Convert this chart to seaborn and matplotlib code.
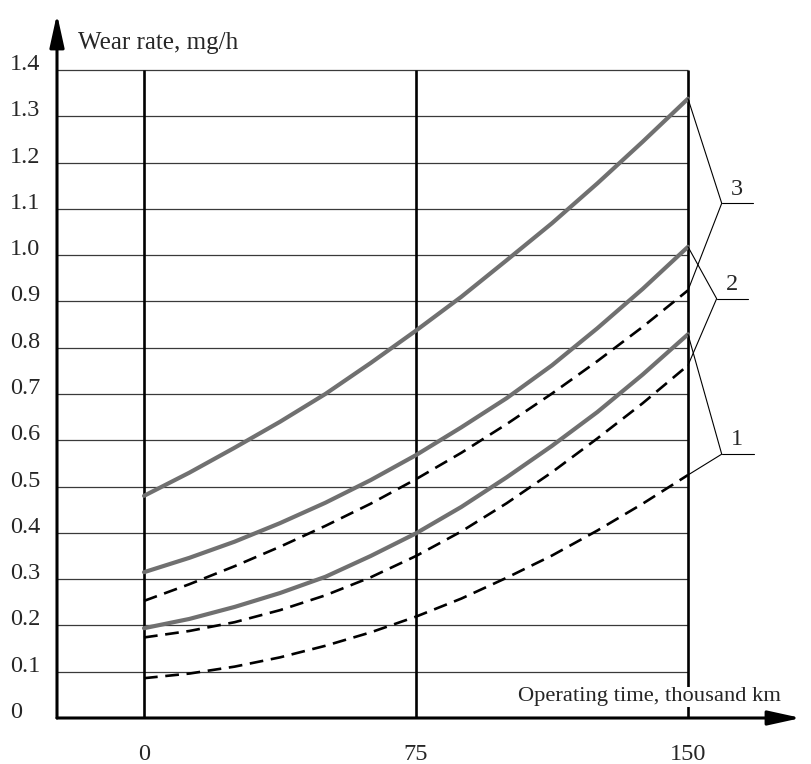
import matplotlib
matplotlib.use("Agg")
import matplotlib.pyplot as plt
import numpy as np
import pandas as pd
import seaborn as sns

# operating time, thousand km
km = [0, 12.5, 25, 37.5, 50, 62.5, 75, 87.5, 100, 112.5, 125, 137.5, 150]

# wear rate, mg/h  (solid = grey curves, dashed = black curves), groups 1..3
solid_1 = [0.194, 0.214, 0.240, 0.270, 0.305, 0.350, 0.399, 0.456, 0.520, 0.588, 0.661, 0.742, 0.829]
solid_2 = [0.315, 0.346, 0.381, 0.421, 0.465, 0.514, 0.568, 0.628, 0.691, 0.762, 0.842, 0.927, 1.018]
solid_3 = [0.480, 0.530, 0.584, 0.640, 0.700, 0.767, 0.837, 0.910, 0.989, 1.069, 1.155, 1.245, 1.338]
dashed_1 = [0.086, 0.096, 0.111, 0.131, 0.156, 0.185, 0.219, 0.258, 0.303, 0.351, 0.405, 0.463, 0.525]
dashed_2 = [0.174, 0.188, 0.207, 0.233, 0.265, 0.304, 0.350, 0.403, 0.464, 0.531, 0.604, 0.680, 0.762]
dashed_3 = [0.253, 0.289, 0.328, 0.370, 0.415, 0.463, 0.516, 0.573, 0.635, 0.701, 0.771, 0.845, 0.924]

group_names = ["1", "2", "3"]
y_ticks = [0.0, 0.1, 0.2, 0.3, 0.4, 0.5, 0.6, 0.7, 0.8, 0.9, 1.0, 1.1, 1.2, 1.3, 1.4]
y_tick_labels = ["0", "0.1", "0.2", "0.3", "0.4", "0.5", "0.6", "0.7",
                 "0.8", "0.9", "1.0", "1.1", "1.2", "1.3", "1.4"]
x_ticks = [0, 75, 150]
x_tick_labels = ["0", "75", "150"]

# long-form tables for seaborn
solid_df = pd.DataFrame({
    "km": km * 3,
    "wear": solid_1 + solid_2 + solid_3,
    "group": np.repeat(group_names, len(km)),
})
dashed_df = pd.DataFrame({
    "km": km * 3,
    "wear": dashed_1 + dashed_2 + dashed_3,
    "group": np.repeat(group_names, len(km)),
})

sns.set_style("white")
plt.rcParams["font.family"] = ["Liberation Serif", "DejaVu Serif"]

fig = plt.figure(figsize=(8.11, 7.64), dpi=100)
# left spine at px 57, bottom at px 718
ax = fig.add_axes([57 / 811, 46 / 764, (811 - 57) / 811, 718 / 764])
px_x = (688 - 144) / 150.0
px_y = (718 - 70) / 1.4
x_left = (57 - 144) / px_x
ax.set_xlim(x_left, (811 - 144) / px_x)
ax.set_ylim(0, 718 / px_y)
for s in ax.spines.values():
    s.set_visible(False)

# grid
ax.hlines(y_ticks[1:], x_left, 150, color="#3a3a3a", lw=0.9, zorder=1)
ax.vlines(x_ticks, 0, 1.4, color="black", lw=1.9, zorder=2)

# curves
sns.lineplot(data=solid_df, x="km", y="wear", units="group", estimator=None,
             color="#707070", linewidth=3.0, legend=False, ax=ax, zorder=3)
sns.lineplot(data=dashed_df, x="km", y="wear", units="group", estimator=None,
             color="black", linewidth=1.9, linestyle=(0, (5.2, 2.9)),
             legend=False, ax=ax, zorder=3)

# axes arrows
arrow = dict(arrowstyle="-|>,head_length=1.0,head_width=0.22", lw=2.2,
             color="black", mutation_scale=20, shrinkA=0, shrinkB=0)
ax.annotate("", xy=((801 - 144) / px_x, 0), xytext=(x_left, 0),
            arrowprops=arrow, annotation_clip=False, zorder=4)
ax.annotate("", xy=(x_left, (718 - 14) / px_y), xytext=(x_left, 0),
            arrowprops=arrow, annotation_clip=False, zorder=4)

# ticks
ax.set_yticks(y_ticks, y_tick_labels)
ax.set_xticks(x_ticks, x_tick_labels)
ax.tick_params(axis="y", length=0, pad=47 * 0.72, labelsize=17.5)
ax.tick_params(axis="x", length=0, pad=18.5, labelsize=17.5)
for lab in ax.get_yticklabels():
    lab.set_ha("left")
    lab.set_va("baseline")
ax.set_xlabel("")
ax.set_ylabel("")

# axis titles
ax.text((78 - 144) / px_x, (718 - 43) / px_y, "Wear rate, mg/h",
        ha="left", va="center", fontsize=18)
ax.text((518 - 144) / px_x, (718 - 697) / px_y, "Operating time, thousand km",
        ha="left", va="center", fontsize=16.2, zorder=5,
        bbox=dict(facecolor="white", edgecolor="none", pad=0.5))

# group labels with leader lines
ends = {"1": (solid_1[-1], dashed_1[-1]),
        "2": (solid_2[-1], dashed_2[-1]),
        "3": (solid_3[-1], dashed_3[-1])}
joints = {"1": (159.3, 0.570, 168.2), "2": (157.9, 0.906, 166.6),
          "3": (159.3, 1.112, 167.9)}
for g in group_names:
    jx, jy, hx = joints[g]
    top, bottom = ends[g]
    ax.plot([150, jx, 150], [top, jy, bottom], color="black", lw=0.8, zorder=4)
    ax.plot([jx, hx], [jy, jy], color="black", lw=0.8, zorder=4)
    ax.text(jx + 4.2, jy + 0.008, g, ha="center", va="bottom", fontsize=17.5)

fig.savefig("out.png", dpi=100)
